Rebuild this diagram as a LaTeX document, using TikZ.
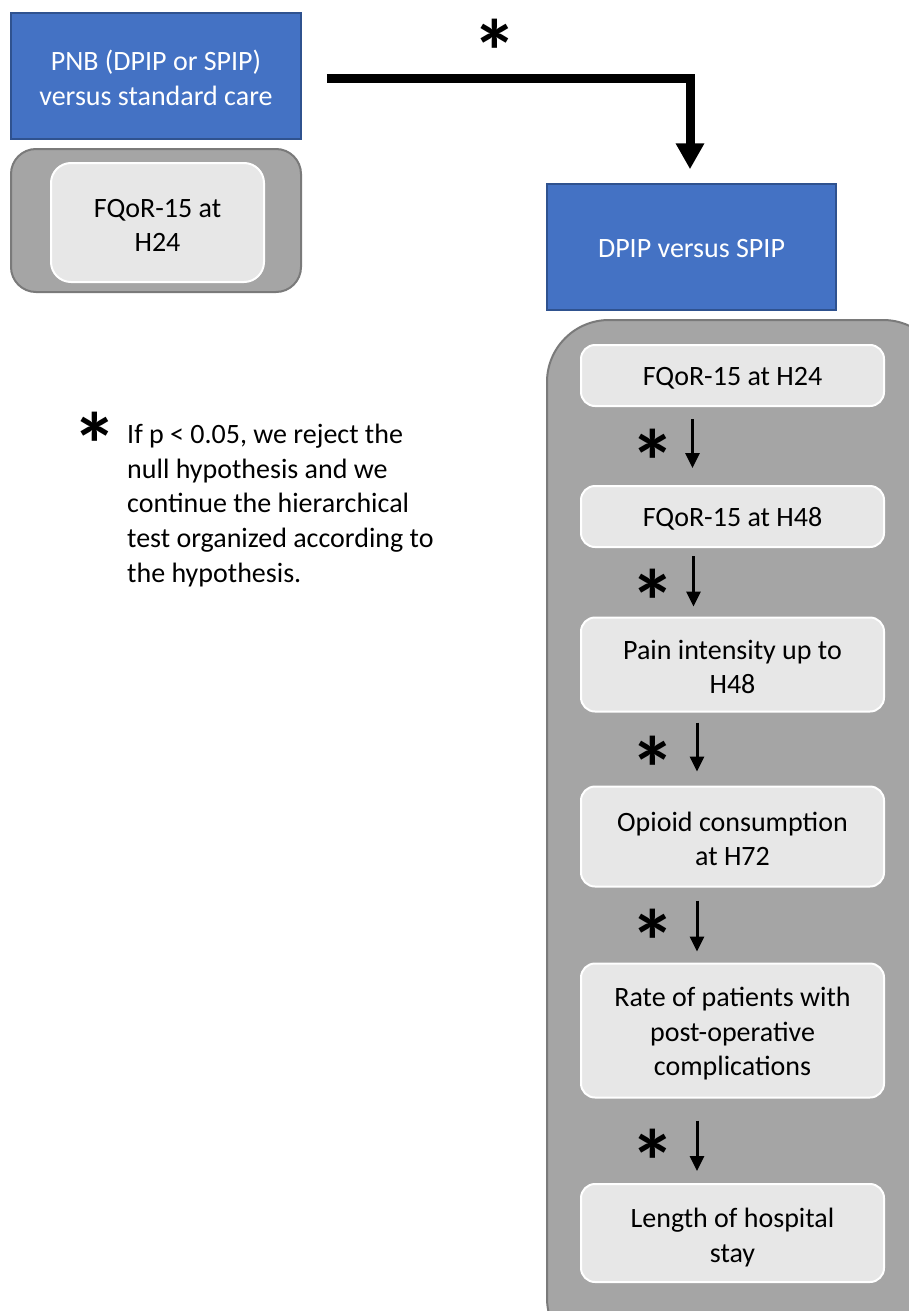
\documentclass[tikz,border=0pt]{standalone}
\usepackage{fontspec}
\setmainfont{Carlito}
\usetikzlibrary{arrows.meta}
\definecolor{accblue}{HTML}{4472C4}
\definecolor{accblueline}{HTML}{2F528F}
\definecolor{panelgray}{HTML}{A5A5A5}
\definecolor{panelline}{HTML}{7A7A7A}
\definecolor{innergray}{HTML}{E7E7E7}
\tikzset{
  boxtext/.style={align=center, text height=27.5pt, text depth=7.5pt,
    font=\fontsize{28pt}{34.4pt}\selectfont},
  twolines/.style={text height=66pt},
  threelines/.style={text height=97.5pt},
  bluebox/.style={boxtext, draw=accblueline, line width=1.5pt, fill=accblue, text=white,
    minimum width=290pt, minimum height=126pt, inner sep=0pt},
  panel/.style={draw=panelline, line width=2pt, fill=panelgray},
  itembox/.style={boxtext, draw=white, line width=2pt, fill=innergray, rounded corners=14pt,
    inner sep=0pt},
  star/.style={font=\bfseries\fontsize{90pt}{90pt}\selectfont, inner sep=0pt},
  smallarr/.style={line width=3pt, -{Triangle[length=15pt,width=14pt]}},
  bigarr/.style={line width=9pt, -{Triangle[length=26pt,width=27pt]}},
  note/.style={align=left, anchor=north west, inner sep=0pt,
    font=\fontsize{28pt}{34.6pt}\selectfont}
}
\begin{document}
\begin{tikzpicture}[x=1pt,y=-1pt]
\useasboundingbox (0,0) rectangle (909,1311);
\clip (0,0) rectangle (909,1311);
\fill[white] (0,0) rectangle (909,1311);

% left group
\node[bluebox, twolines] (pnb) at (156,76) {PNB (DPIP or SPIP)\\versus standard care};
\node[panel, rounded corners=25pt, minimum width=290pt, minimum height=143pt, inner sep=0pt] (lpanel) at (156,220.5) {};
\node[itembox, twolines, rounded corners=20pt, minimum width=213pt, minimum height=119pt] (l1) at (157.5,222.5) {FQoR-15 at\\H24};

% right group
\node[bluebox, minimum width=289pt] (dpip) at (691.5,247) {DPIP versus SPIP};
\draw[panel, rounded corners=62pt] (547,320) rectangle (945,1360);

\node[itembox, minimum width=303pt, minimum height=61pt] (b1) at (732.5,375.5) {FQoR-15 at H24};
\node[itembox, minimum width=303pt, minimum height=61pt] (b2) at (732.5,516.5) {FQoR-15 at H48};
\node[itembox, twolines, minimum width=303pt, minimum height=94pt] (b3) at (732.5,664.5) {Pain intensity up to\\H48};
\node[itembox, twolines, minimum width=303pt, minimum height=100pt] (b4) at (732.5,836.5) {Opioid consumption\\at H72};
\node[itembox, threelines, minimum width=303pt, minimum height=134pt] (b5) at (732.5,1030.5) {Rate of patients with\\post-operative\\complications};
\node[itembox, twolines, minimum width=303pt, minimum height=98pt] (b6) at (732.5,1233) {Length of hospital\\stay};

% big connector
\draw[bigarr, shorten <=25pt, shorten >=14pt] ([yshift=-2.5pt]pnb.east) -| ([xshift=-1.5pt]dpip.north);
\node[star] (s0) at (495,51) {*};

% small connectors
\draw[smallarr, shorten <=12pt, shorten >=17pt] ([xshift=-40pt]b1.south) -- ([xshift=-40pt]b2.north);
\draw[smallarr, shorten <=8pt, shorten >=10pt] ([xshift=-39pt]b2.south) -- ([xshift=-39pt]b3.north);
\draw[smallarr, shorten <=10pt, shorten >=14pt] ([xshift=-35.5pt]b3.south) -- ([xshift=-35.5pt]b4.north);
\draw[smallarr, shorten <=13pt, shorten >=11pt] ([xshift=-35.5pt]b4.south) -- ([xshift=-35.5pt]b5.north);
\draw[smallarr, shorten <=22pt, shorten >=12pt] ([xshift=-35.5pt]b5.south) -- ([xshift=-35.5pt]b6.north);

\node[star] (s1) at (653,461) {*};
\node[star] (s2) at (653,601) {*};
\node[star] (s3) at (653,768) {*};
\node[star] (s4) at (653,941) {*};
\node[star] (s5) at (653,1161) {*};

% footnote
\node[star] (s6) at (95,444) {*};
\node[note] (fn) at (127,424) {If p < 0.05, we reject the\\null hypothesis and we\\continue the hierarchical\\test organized according to\\the hypothesis.};
\end{tikzpicture}
\end{document}
